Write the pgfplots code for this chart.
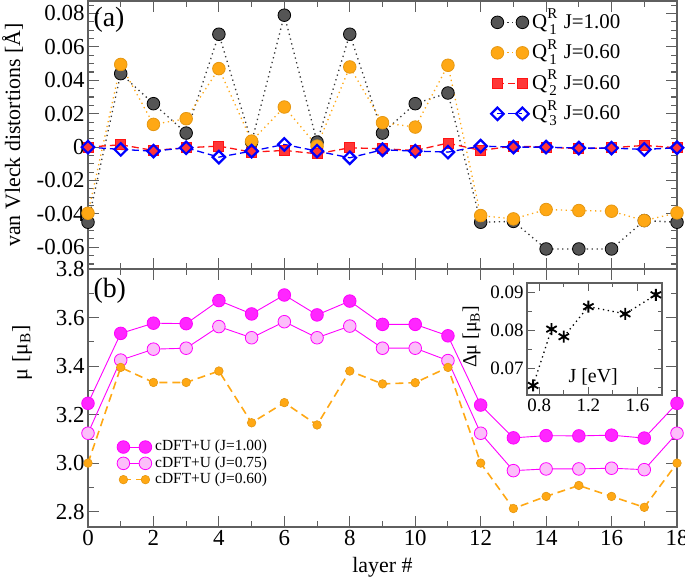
\documentclass[border=0pt]{standalone}
\usepackage{fontspec}
\setmainfont{Liberation Serif}
\usepackage{pgfplots}
\usepackage{pgfplotstable}
\pgfplotsset{compat=1.18}
\definecolor{qblack}{RGB}{55,55,55}
\definecolor{qorange}{RGB}{255,168,20}
\definecolor{qred}{RGB}{255,20,20}
\definecolor{qblue}{RGB}{0,0,255}
\definecolor{qmag}{RGB}{255,0,255}
\definecolor{qpink}{RGB}{252,190,250}
\definecolor{axgray}{RGB}{95,95,95}
\newcommand{\QR}[1]{Q\rlap{\raisebox{0.45em}{\fontsize{15}{15}\selectfont R}}\raisebox{-0.3em}{\fontsize{15}{15}\selectfont\hspace{2bp}#1}\hspace{7bp}}

\pgfplotstableread{
x   qa      qb      qc       qd
0  -0.045  -0.0396  0.0      0.0
1   0.044   0.0495  0.0014  -0.0014
2   0.026   0.0136 -0.002   -0.0024
3   0.0084  0.017  -0.0004  -0.0004
4   0.0676  0.047   0.0006  -0.006
5   0.003   0.0036 -0.003   -0.0024
6   0.079   0.024  -0.002    0.0016
7   0.003   0.0006 -0.004   -0.0024
8   0.0676  0.048  -0.0004  -0.0064
9   0.0084  0.0146 -0.001   -0.0016
10  0.026   0.012  -0.002   -0.0024
11  0.0324  0.049   0.0024  -0.003
12 -0.045  -0.041  -0.002    0.0006
13 -0.0445 -0.043   0.0006   0.0
14 -0.061  -0.0374  0.0      0.0
15 -0.061  -0.038  -0.001   -0.0006
16 -0.061  -0.0384 -0.0004  -0.0006
17 -0.044  -0.044   0.001   -0.0014
18 -0.045  -0.0394 -0.0004  -0.0004
}\toptab

\pgfplotstableread{
x   ma     mb     mc
0   3.247  3.124  3.001
1   3.535  3.425  3.395
2   3.577  3.470  3.333
3   3.575  3.474  3.333
4   3.670  3.563  3.380
5   3.615  3.517  3.167
6   3.693  3.583  3.250
7   3.611  3.517  3.158
8   3.668  3.565  3.380
9   3.572  3.474  3.327
10  3.572  3.474  3.332
11  3.525  3.423  3.395
12  3.240  3.124  3.001
13  3.105  2.970  2.814
14  3.114  2.977  2.864
15  3.113  2.977  2.909
16  3.116  2.980  2.864
17  3.104  2.974  2.819
18  3.247  3.124  3.001
}\bottab

\pgfplotstableread{
J     dmu
0.75  0.0655
0.90  0.0803
1.00  0.0783
1.20  0.0862
1.50  0.0843
1.75  0.0893
}\insettab

\pgfplotsset{
  gr/.style={
    scale only axis, clip=false,
    scaled ticks=false,
    axis line style={axgray, line width=1.1bp},
    tick style={axgray, line width=1.1bp},
    major tick length=11bp, minor tick length=6bp,
    tick align=inside,
    ticklabel style={font=\fontsize{23}{27}\selectfont},
    label style={font=\fontsize{22}{26}\selectfont},
    legend cell align=left,
  },
  dotl/.style={dash pattern=on 1.3bp off 3.6bp, line width=1.3bp},
}

\begin{document}
\begin{tikzpicture}
\useasboundingbox (0bp,0bp) rectangle (685bp,578bp);

% ---------------- top panel ----------------
\begin{axis}[gr, at={(88bp,309bp)}, anchor=south west,
  width=589bp, height=268bp,
  xmin=0, xmax=18, ymin=-0.073, ymax=0.0875,
  xtick={0,2,4,6,8,10,12,14,16,18}, minor xtick={1,3,5,7,9,11,13,15,17},
  xticklabels={},
  ytick={-0.06,-0.04,-0.02,0,0.02,0.04,0.06,0.08},
  yticklabels={-0.06,-0.04,-0.02,0,0.02,0.04,0.06,0.08},
  minor ytick={-0.07,-0.065,-0.055,-0.05,-0.045,-0.035,-0.03,-0.025,-0.015,-0.01,-0.005,0.005,0.01,0.015,0.025,0.03,0.035,0.045,0.05,0.055,0.065,0.07,0.075,0.085},
  ylabel={van Vleck distortions [Å]},
  ylabel style={at={(axis description cs:-0.128,0.5)}, anchor=center},
  legend image code/.code={\draw[#1] plot coordinates {(0bp,0bp) (25bp,0bp)};},
  legend style={at={(axis description cs:0.679,0.978)}, anchor=north west,
    draw=none, fill=none, font=\fontsize{21}{25}\selectfont,
    row sep=4bp, column sep=3bp,
    nodes={inner sep=0.5bp, text height=18.5bp, text depth=7bp}},
]
\addplot[qblack, dotl, mark=*, mark size=6.3bp,
  mark options={solid, fill=qblack!85, draw=black, line width=0.8bp}]
  table[x=x, y=qa] {\toptab};
\addlegendentry{\QR{1}J=1.00}
\addplot[qorange, dotl, mark=*, mark size=6.3bp,
  mark options={solid, fill=qorange, draw=qorange!90!black, line width=0.8bp}]
  table[x=x, y=qb] {\toptab};
\addlegendentry{\QR{1}J=0.60}
\addplot[qred, dash pattern=on 7bp off 4bp, line width=1.3bp, mark=square*, mark size=5bp,
  mark options={solid, fill=qred!85, draw=qred, line width=0.8bp}]
  table[x=x, y=qc] {\toptab};
\addlegendentry{\QR{2}J=0.60}
\addplot[qblue, dash pattern=on 7bp off 4bp, line width=1.3bp, mark=square, mark size=4.4bp,
  mark options={solid, rotate=45, fill=white, draw=qblue, line width=2.2bp}]
  table[x=x, y=qd] {\toptab};
\addlegendentry{\QR{3}J=0.60}
\node[anchor=west, font=\fontsize{28}{32}\selectfont, inner sep=0pt] at (axis description cs:0.009,0.929) {(a)};
\end{axis}

% ---------------- bottom panel ----------------
\begin{axis}[gr, at={(88bp,51bp)}, anchor=south west,
  width=589bp, height=258bp,
  xmin=0, xmax=18, ymin=2.738, ymax=3.8,
  xtick={0,2,4,6,8,10,12,14,16,18}, minor xtick={1,3,5,7,9,11,13,15,17},
  xticklabels={0,2,4,6,8,10,12,14,16,18},
  ytick={2.8,3.0,3.2,3.4,3.6,3.8},
  yticklabels={2.8,3.0,3.2,3.4,3.6,3.8},
  minor ytick={2.9,3.1,3.3,3.5,3.7},
  xlabel={layer \#},
  xlabel style={at={(axis description cs:0.5,-0.155)}, anchor=center},
  ylabel={μ [μ\textsubscript{B}]},
  ylabel style={at={(axis description cs:-0.112,0.675)}, anchor=center},
  legend image code/.code={\draw[#1] plot coordinates {(0bp,0bp) (22bp,0bp)};},
  legend style={at={(axis description cs:0.044,0.35)}, anchor=north west,
    draw=none, fill=none, font=\fontsize{15.5}{17}\selectfont,
    row sep=0bp, column sep=3bp,
    nodes={inner sep=0.5bp, text height=11.5bp, text depth=3.8bp}},
]
\addplot[qmag, line width=0.9bp, mark=*, mark size=6.3bp,
  mark options={solid, fill=qmag!85!white, draw=qmag, line width=0.8bp}]
  table[x=x, y=ma] {\bottab};
\addlegendentry{cDFT+U (J=1.00)}
\addplot[qmag, line width=0.9bp, mark=*, mark size=6.3bp,
  mark options={solid, fill=qpink, draw=qmag, line width=0.8bp}]
  table[x=x, y=mb] {\bottab};
\addlegendentry{cDFT+U (J=0.75)}
\addplot[qorange, dash pattern=on 8bp off 5bp, line width=1.6bp, mark=*, mark size=4.3bp,
  mark options={solid, fill=qorange, draw=qorange!90!black, line width=0.6bp}]
  table[x=x, y=mc] {\bottab};
\addlegendentry{cDFT+U (J=0.60)}
\node[anchor=west, font=\fontsize{28}{32}\selectfont, inner sep=0pt] at (axis description cs:0.009,0.917) {(b)};
\end{axis}

% ---------------- inset ----------------
\begin{axis}[gr, at={(527bp,183bp)}, anchor=south west,
  width=135bp, height=112bp,
  major tick length=8bp, minor tick length=4.5bp,
  xmin=0.7, xmax=1.8, ymin=0.063, ymax=0.0924,
  xtick={0.8,1.2,1.6}, xticklabels={0.8,1.2,1.6}, minor xtick={1.0,1.4},
  ytick={0.07,0.08,0.09}, yticklabels={0.07,0.08,0.09},
  minor ytick={0.065,0.075,0.085},
  ticklabel style={font=\fontsize{19}{22}\selectfont},
  label style={font=\fontsize{20}{23}\selectfont},
  xlabel={J [eV]},
  xlabel style={at={(axis description cs:0.49,0.165)}, anchor=center},
  ylabel={Δμ [μ\textsubscript{B}]},
  ylabel style={at={(axis description cs:-0.41,0.52)}, anchor=center},
  axis background/.style={fill=white},
]
\addplot[black, dotl, mark=asterisk, mark size=6bp,
  mark options={solid, line width=1.8bp}]
  table[x=J, y=dmu] {\insettab};
\end{axis}
\end{tikzpicture}
\end{document}
